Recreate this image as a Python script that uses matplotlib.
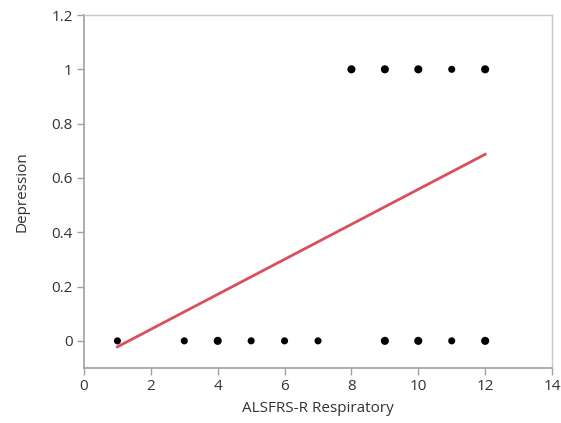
import numpy as np
import matplotlib.pyplot as plt

plt.rcParams['font.family'] = ['Open Sans', 'DejaVu Sans']

# observed points (x, y, number of overlapping observations)
x_pts = [1, 3, 4, 5, 6, 7, 9, 10, 11, 12, 8, 9, 10, 11, 12]
y_pts = [0, 0, 0, 0, 0, 0, 0, 0, 0, 0, 1, 1, 1, 1, 1]
n_pts = [1, 1, 2, 1, 1, 1, 2, 2, 1, 2, 2, 2, 2, 1, 2]

# fitted line endpoints
fit_x = [1, 12]
fit_y = [-0.022, 0.687]

fig = plt.figure(figsize=(5.61, 4.23), dpi=100)
ax = fig.add_axes([0.1497, 0.130, 0.8343, 0.8345])

sizes = [26 if n == 1 else 34 for n in n_pts]
ax.scatter(x_pts, y_pts, s=sizes, color='black', zorder=3, linewidths=0)
ax.plot(fit_x, fit_y, color='#d9505d', lw=2.0, zorder=2)

ax.set_xlim(0, 14)
ax.set_ylim(-0.1, 1.2)
ax.set_xticks(np.arange(0, 15, 2))
ax.set_yticks([0, 0.2, 0.4, 0.6, 0.8, 1.0, 1.2])
ax.set_yticklabels(['0', '0.2', '0.4', '0.6', '0.8', '1', '1.2'])

for side in ['left', 'bottom']:
    ax.spines[side].set_color('#a0a0a0')
    ax.spines[side].set_linewidth(1.2)
for side in ['top', 'right']:
    ax.spines[side].set_color('#c8c8c8')
    ax.spines[side].set_linewidth(1.0)

ax.tick_params(direction='out', length=5, width=1, color='#a0a0a0',
               labelsize=11, labelcolor='#333333', pad=3)

ax.set_xlabel('ALSFRS-R Respiratory', fontsize=11, color='#333333', labelpad=5)
ax.set_ylabel('Depression', fontsize=11, color='#333333', labelpad=16)

plt.savefig('out.png', dpi=100)
